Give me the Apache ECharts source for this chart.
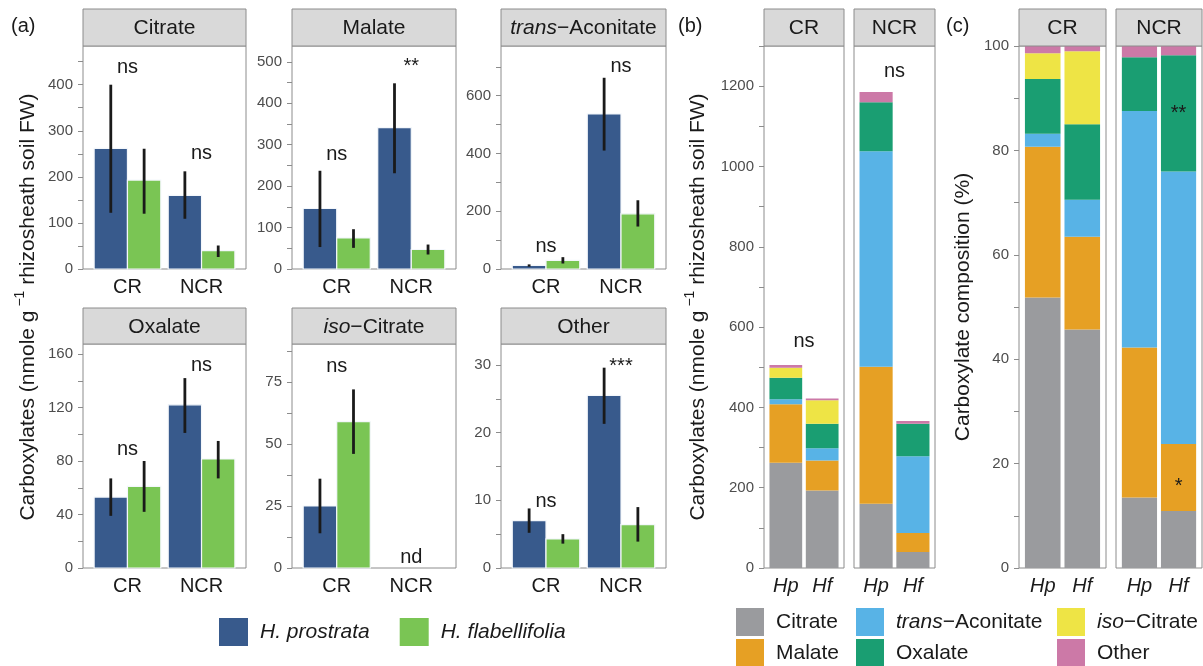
<!DOCTYPE html>
<html>
<head>
<meta charset="utf-8">
<script src="https://cdn.jsdelivr.net/npm/echarts@6/dist/echarts.min.js"></script>
<style>
  html, body { margin: 0; padding: 0; background: #ffffff; }
  #chart { width: 1203px; height: 666px; }
</style>
</head>
<body>
<div id="chart"></div>
<script>
// ---- categories ----
const sites = ['CR', 'NCR'];
const speciesShort = ['Hp', 'Hf'];
const speciesNames = ['H. prostrata', 'H. flabellifolia'];
const acids = ['Citrate', 'Malate', 'trans-Aconitate', 'Oxalate', 'iso-Citrate', 'Other'];

// ---- means (nmole g-1 rhizosheath soil FW), ordered [CR, NCR] ----
const citrateHp = [262, 160];
const citrateHf = [193, 40];
const malateHp = [146, 341];
const malateHf = [75, 47];
const transHp = [12.5, 537];
const transHf = [30, 191];
const oxalateHp = [53, 122];
const oxalateHf = [61, 81.5];
const isoHp = [25, null];   // not detected at NCR
const isoHf = [59, null];
const otherHp = [7.0, 25.5];
const otherHf = [4.3, 6.4];

// ---- error bar ranges [low, high], ordered [CR, NCR] ----
const citrateHpErr = [[122, 400], [109, 212]];
const citrateHfErr = [[120, 261], [26, 51]];
const malateHpErr = [[53, 237], [231, 448]];
const malateHfErr = [[51, 96], [35, 59]];
const transHpErr = [[8, 16], [410, 662]];
const transHfErr = [[19, 41], [147, 238]];
const oxalateHpErr = [[39, 67], [101, 142]];
const oxalateHfErr = [[42, 80], [67, 95]];
const isoHpErr = [[14, 36], null];
const isoHfErr = [[46, 72], null];
const otherHpErr = [[5.2, 8.8], [21.3, 29.6]];
const otherHfErr = [[3.6, 5.0], [3.9, 9.0]];

// ---- y tick labels and axis limits ----
const citrateTicks = [0, 100, 200, 300, 400];
const malateTicks = [0, 100, 200, 300, 400, 500];
const transTicks = [0, 200, 400, 600];
const oxalateTicks = [0, 40, 80, 120, 160];
const isoTicks = [0, 25, 50, 75];
const otherTicks = [0, 10, 20, 30];
const totalTicks = [0, 200, 400, 600, 800, 1000, 1200];
const percentTicks = [0, 20, 40, 60, 80, 100];
const citrateMax = 484, malateMax = 538, transMax = 772, oxalateMax = 167.5;
const isoMax = 90.3, otherMax = 33.1, totalMax = 1300, percentMax = 100;

// ---- significance labels: [text, x position, y value] ----
const citrateSig = [['ns', 1, 436], ['ns', 2, 248]];
const malateSig = [['ns', 1, 273], ['**', 2, 500]];
const transSig = [['ns', 1, 76], ['ns', 2, 697]];
const oxalateSig = [['ns', 1, 88], ['ns', 2, 151]];
const isoSig = [['ns', 1, 81], ['nd', 2, 4]];
const otherSig = [['ns', 1, 9.75], ['***', 2, 30.5]];
const totalSigCR = [['ns', 1.5, 561]];
const totalSigNCR = [['ns', 1.5, 1233]];
const percentSigNCR = [['**', 2, 88], ['*', 2, 16.6]];

// ---- styling ----
const FONT = '"Liberation Sans", Arial, Helvetica, sans-serif';
const TXT = '#1a1a1a';
const FRAME = '#8c8c8c';
const speciesColors = ['#385a8c', '#7ac554'];
const acidColors = ['#9a9b9e', '#e6a024', '#58b3e6', '#1a9e72', '#eee445', '#cc79a7'];
const DODGE = 0.225, BAR_W = 0.45, STACK_W = 0.9;

const grids = [], xAxes = [], yAxes = [], series = [], graphics = [];

function addPanel(p) {
  const gi = grids.length;
  grids.push({ left: p.l, top: p.top, width: p.r - p.l, height: p.bottom - p.top,
    show: true, borderColor: FRAME, borderWidth: 1, backgroundColor: '#ffffff' });
  xAxes.push({ type: 'value', gridIndex: gi, min: 0.4, max: 2.6,
    axisLine: { show: false }, axisTick: { show: false }, splitLine: { show: false },
    axisLabel: { customValues: [1, 2], formatter: v => p.cats[Math.round(v) - 1],
      fontSize: 20, fontFamily: FONT, color: TXT, margin: 8,
      fontStyle: p.italic ? 'italic' : 'normal' } });
  const step = (p.ticks[1] - p.ticks[0]) / 2;
  const minor = [];
  for (let v = 0; v <= p.max + 1e-6; v += step) minor.push(+v.toFixed(4));
  yAxes.push({ type: 'value', gridIndex: gi, min: 0, max: p.max,
    axisLine: { show: false }, splitLine: { show: false },
    axisTick: { show: true, length: 5, customValues: minor, lineStyle: { color: FRAME, width: 1 } },
    axisLabel: { customValues: p.ticks, formatter: v => String(v),
      fontSize: 15, fontFamily: FONT, color: '#4d4d4d', margin: 10 } });
  graphics.push({ type: 'rect', z: 10,
    shape: { x: p.l, y: p.stripTop, width: p.r - p.l, height: p.top - p.stripTop },
    style: { fill: '#d9d9d9', stroke: FRAME, lineWidth: 1 } });
  graphics.push({ type: 'text', z: 11, x: (p.l + p.r) / 2, y: (p.stripTop + p.top) / 2 + 1,
    style: { text: p.strip, align: 'center', verticalAlign: 'middle', fontSize: 21, fontFamily: FONT, fill: TXT,
      rich: { i: { fontStyle: 'italic', fontSize: 21, fontFamily: FONT, fill: TXT } } } });
  return gi;
}

function addLabels(gi, sig) {
  series.push({ type: 'custom', xAxisIndex: gi, yAxisIndex: gi, silent: true, z: 5,
    encode: { x: 0, y: 1 },
    data: sig.map(s => [s[1], s[2]]),
    renderItem: (params, api) => {
      const txt = sig[params.dataIndex][0];
      const pt = api.coord([api.value(0), api.value(1)]);
      const star = txt.charAt(0) === '*';
      return { type: 'text', x: pt[0], y: pt[1] + (star ? 5 : -1),
        style: { text: txt, align: 'center', verticalAlign: 'middle',
          fontSize: 20, fontFamily: FONT, fill: TXT } };
    } });
}

// ---- panel (a): grouped bars with error bars ----
const colA = [[83, 246], [292, 456], [501, 666]];
const rowA = [[9, 46, 269], [308, 344, 568]];
const panelsA = [
  { strip: 'Citrate', m: [citrateHp, citrateHf], e: [citrateHpErr, citrateHfErr], ticks: citrateTicks, max: citrateMax, sig: citrateSig, c: 0, r: 0 },
  { strip: 'Malate', m: [malateHp, malateHf], e: [malateHpErr, malateHfErr], ticks: malateTicks, max: malateMax, sig: malateSig, c: 1, r: 0 },
  { strip: '{i|trans}−Aconitate', m: [transHp, transHf], e: [transHpErr, transHfErr], ticks: transTicks, max: transMax, sig: transSig, c: 2, r: 0 },
  { strip: 'Oxalate', m: [oxalateHp, oxalateHf], e: [oxalateHpErr, oxalateHfErr], ticks: oxalateTicks, max: oxalateMax, sig: oxalateSig, c: 0, r: 1 },
  { strip: '{i|iso}−Citrate', m: [isoHp, isoHf], e: [isoHpErr, isoHfErr], ticks: isoTicks, max: isoMax, sig: isoSig, c: 1, r: 1 },
  { strip: 'Other', m: [otherHp, otherHf], e: [otherHpErr, otherHfErr], ticks: otherTicks, max: otherMax, sig: otherSig, c: 2, r: 1 }
];

panelsA.forEach(p => {
  const gi = addPanel({ l: colA[p.c][0], r: colA[p.c][1], stripTop: rowA[p.r][0], top: rowA[p.r][1],
    bottom: rowA[p.r][2], strip: p.strip, cats: sites, italic: false, max: p.max, ticks: p.ticks });
  speciesNames.forEach((nm, s) => {
    const dx = s === 0 ? -DODGE : DODGE;
    series.push({ type: 'custom', name: nm, xAxisIndex: gi, yAxisIndex: gi, z: 2,
      itemStyle: { color: speciesColors[s] }, encode: { x: 0, y: 1 },
      data: p.m[s].map((v, i) => v == null ? null : [i + 1, v]).filter(Boolean),
      renderItem: (params, api) => {
        const x = api.value(0) + dx;
        const a = api.coord([x - BAR_W / 2, api.value(1)]);
        const b = api.coord([x + BAR_W / 2, 0]);
        return { type: 'rect', shape: { x: a[0], y: a[1], width: b[0] - a[0], height: b[1] - a[1] },
          style: { fill: api.visual('color'), stroke: '#f4f7fb', lineWidth: 1.2 } };
      } });
    series.push({ type: 'custom', xAxisIndex: gi, yAxisIndex: gi, z: 3, silent: true,
      encode: { x: 0, y: [1, 2] },
      data: p.e[s].map((r, i) => r == null ? null : [i + 1, r[0], r[1]]).filter(Boolean),
      renderItem: (params, api) => {
        const x = api.value(0) + dx;
        const lo = api.coord([x, api.value(1)]);
        const hi = api.coord([x, api.value(2)]);
        return { type: 'line', shape: { x1: lo[0], y1: lo[1], x2: hi[0], y2: hi[1] },
          style: { stroke: TXT, lineWidth: 2.8 } };
      } });
  });
  addLabels(gi, p.sig);
});

// ---- panels (b) and (c): stacked composition per site ----
const hpMeans = [citrateHp, malateHp, transHp, oxalateHp, isoHp, otherHp];
const hfMeans = [citrateHf, malateHf, transHf, oxalateHf, isoHf, otherHf];

function stacks(siteIdx, percent) {
  const out = acids.map(() => []);
  [hpMeans, hfMeans].forEach((m, j) => {
    const total = m.reduce((s, arr) => s + (arr[siteIdx] || 0), 0);
    let cum = 0;
    m.forEach((arr, k) => {
      const v = (arr[siteIdx] || 0) * (percent ? 100 / total : 1);
      out[k].push([j + 1, cum, cum + v]);
      cum += v;
    });
  });
  return out;
}

function addStackSeries(gi, siteIdx, percent) {
  const st = stacks(siteIdx, percent);
  acids.forEach((name, k) => {
    series.push({ type: 'custom', name: name, xAxisIndex: gi, yAxisIndex: gi, z: 2,
      itemStyle: { color: acidColors[k] }, encode: { x: 0, y: [1, 2] },
      data: st[k],
      renderItem: (params, api) => {
        if (api.value(2) - api.value(1) < 1e-9) return null;
        const x = api.value(0);
        const a = api.coord([x - STACK_W / 2, api.value(2)]);
        const b = api.coord([x + STACK_W / 2, api.value(1)]);
        return { type: 'rect', shape: { x: a[0], y: a[1], width: b[0] - a[0], height: b[1] - a[1] },
          style: { fill: api.visual('color') } };
      } });
  });
}

const colB = [[764, 844], [854, 935]];
const colC = [[1019, 1106], [1116, 1202]];
const sigB = [totalSigCR, totalSigNCR];
sites.forEach((site, i) => {
  const gb = addPanel({ l: colB[i][0], r: colB[i][1], stripTop: 9, top: 46, bottom: 568,
    strip: site, cats: speciesShort, italic: true, max: totalMax, ticks: totalTicks });
  addStackSeries(gb, i, false);
  addLabels(gb, sigB[i]);
});
sites.forEach((site, i) => {
  const gc = addPanel({ l: colC[i][0], r: colC[i][1], stripTop: 9, top: 46, bottom: 568,
    strip: site, cats: speciesShort, italic: true, max: percentMax, ticks: percentTicks });
  addStackSeries(gc, i, true);
  if (i === 1) addLabels(gc, percentSigNCR);
});

// inner facets of (b) and (c) share the y axis of their left neighbour
[grids.length - 3, grids.length - 1].forEach(gi => { yAxes[gi].axisLabel.show = false; yAxes[gi].axisTick.show = false; });

// ---- titles and panel tags ----
const yTitle = '{n|Carboxylates (nmole g}{s| −1}{n| rhizosheath soil FW)}';
const titleRich = {
  n: { fontSize: 21, fontFamily: FONT, fill: TXT, lineHeight: 30 },
  s: { fontSize: 14, fontFamily: FONT, fill: TXT, verticalAlign: 'top', lineHeight: 30 }
};
graphics.push({ type: 'text', x: 28, y: 307, rotation: Math.PI / 2,
  style: { text: yTitle, align: 'center', verticalAlign: 'middle', rich: titleRich } });
graphics.push({ type: 'text', x: 698, y: 307, rotation: Math.PI / 2,
  style: { text: yTitle, align: 'center', verticalAlign: 'middle', rich: titleRich } });
graphics.push({ type: 'text', x: 963, y: 307, rotation: Math.PI / 2,
  style: { text: 'Carboxylate composition (%)', align: 'center', verticalAlign: 'middle',
    fontSize: 21, fontFamily: FONT, fill: TXT } });
[['(a)', 11], ['(b)', 678], ['(c)', 946]].forEach(t => {
  graphics.push({ type: 'text', x: t[1], y: 26,
    style: { text: t[0], align: 'left', verticalAlign: 'middle', fontSize: 20, fontFamily: FONT, fill: TXT } });
});

// ---- legends ----
const legendText = { fontSize: 21, fontFamily: FONT, color: TXT, padding: [0, 0, 0, 7],
  rich: { i: { fontStyle: 'italic', fontSize: 21, fontFamily: FONT, color: TXT } } };
const acidLabel = n => n === 'trans-Aconitate' ? '{i|trans}−Aconitate'
  : n === 'iso-Citrate' ? '{i|iso}−Citrate' : n;
const legendColX = [736, 856, 1057];
const legendRowY = [608, 639];

const acidLegends = acids.map((name, k) => ({
  data: [name], left: legendColX[Math.floor(k / 2)], top: legendRowY[k % 2], padding: 0,
  itemWidth: 28, itemHeight: 28, icon: 'rect', selectedMode: false,
  formatter: acidLabel, textStyle: legendText
}));

const option = {
  animation: false,
  backgroundColor: '#ffffff',
  grid: grids,
  xAxis: xAxes,
  yAxis: yAxes,
  series: series,
  graphic: { elements: graphics },
  legend: [
    { data: speciesNames, left: 219, top: 618, padding: 0, orient: 'horizontal',
      itemWidth: 29, itemHeight: 28, itemGap: 30, icon: 'rect', selectedMode: false,
      textStyle: Object.assign({}, legendText, { fontStyle: 'italic' }) }
  ].concat(acidLegends)
};

const chart = echarts.init(document.getElementById('chart'));
chart.setOption(option);
</script>
</body>
</html>
